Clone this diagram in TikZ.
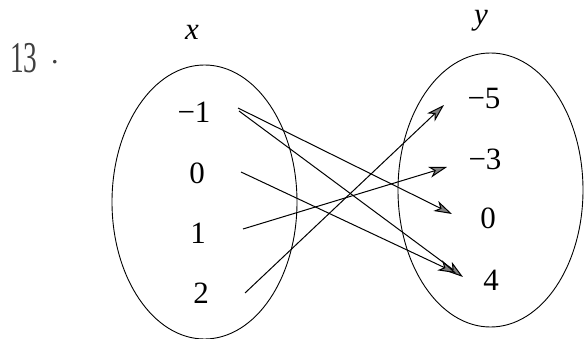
\documentclass[tikz,border=0pt]{standalone}
\usepackage{fontspec}
\setmainfont{Liberation Serif}
\usetikzlibrary{arrows.meta,shapes.geometric}
\begin{document}
\begin{tikzpicture}[x=1pt,y=-1pt,
  val/.style={inner sep=0pt,font=\fontsize{31}{34}\selectfont},
  setlabel/.style={inner sep=0pt,font=\fontsize{31}{34}\selectfont\itshape},
  setoval/.style={ellipse,draw,line width=0.9pt,inner sep=0pt,minimum width=185pt,minimum height=274pt},
  mapto/.style={line width=1pt,-{Stealth[length=18pt,width=11pt,inset=5pt,fill=black!50,line width=1pt]}}]
\useasboundingbox (0,0) rectangle (584,339);
% title
\node[inner sep=0pt,text=black!75,font=\fontsize{44}{48}\selectfont,anchor=base west] (num) at (10,73) {\scalebox{0.62}[1]{13}};
\node[inner sep=0pt,text=black!75,font=\fontsize{30}{30}\selectfont,anchor=base west] (dot) at (51,64) {.};
% sets
\node[setoval] (X) at (204.5,202) {};
\node[setoval] (Y) at (490.5,190) {};
\node[setlabel] (xl) at (192,32) {x};
\node[setlabel] (yl) at (481,21) {y};
% domain
\node[val] (xm1) at (194,112) {−1};
\node[val] (x0) at (197,173) {0};
\node[val] (x1) at (198,233) {1};
\node[val] (x2) at (201,293) {2};
% range
\node[val] (ym5) at (484,99) {−5};
\node[val] (ym3) at (485,159) {−3};
\node[val] (y0) at (488,218) {0};
\node[val] (y4) at (491,280) {4};
% connector ends
\coordinate (s1) at (238,108);
\coordinate (s2) at (239,111);
\coordinate (s3) at (241,172);
\coordinate (s4) at (243,229);
\coordinate (s5) at (245,293);
\coordinate (e1) at (452,214);
\coordinate (e2) at (463,277);
\coordinate (e3) at (456,273);
\coordinate (e4) at (447,167);
\coordinate (e5) at (444,105);
\draw[mapto] (s1) -- (e1);
\draw[mapto] (s2) -- (e2);
\draw[mapto] (s3) -- (e3);
\draw[mapto] (s4) -- (e4);
\draw[mapto] (s5) -- (e5);
\end{tikzpicture}
\end{document}
